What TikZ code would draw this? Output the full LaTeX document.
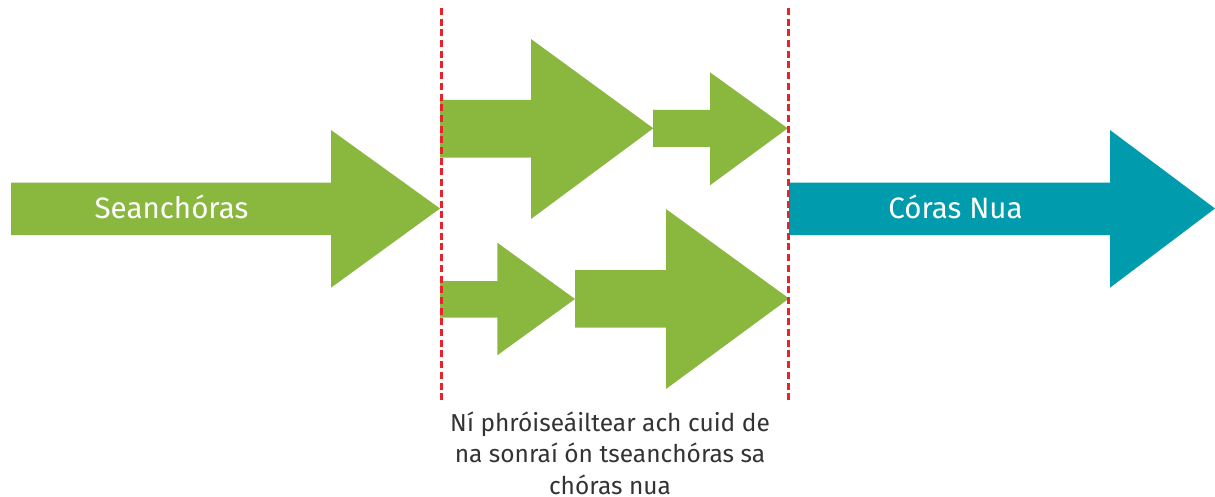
\documentclass[tikz,border=0pt]{standalone}
\usepackage{fontspec}
\setmainfont{Fira Sans}
\definecolor{arrgreen}{HTML}{8AB83F}
\definecolor{arrteal}{HTML}{009CAE}
\definecolor{dashred}{HTML}{E8232B}
\definecolor{txtgray}{HTML}{333333}
\begin{document}
\begin{tikzpicture}[x=1pt,y=-1pt,
  greenarrow/.style={fill=arrgreen,draw=none},
  tealarrow/.style={fill=arrteal,draw=none},
  divider/.style={draw=dashred,line width=2.6pt,dash pattern=on 7pt off 3.7pt},
  label/.style={text=white,font=\fontsize{29.5}{36}\selectfont,inner sep=0pt,anchor=base},
  caption/.style={text=txtgray,font=\fontsize{24.5}{31.3}\selectfont,align=center,inner sep=0pt,anchor=base}]
\useasboundingbox (0,0) rectangle (1215,497);
% big left arrow
\path[greenarrow] (11,182.7) -- (331,182.7) -- (331,130) -- (440,208.5) -- (331,287.7) -- (331,235) -- (11,235) -- cycle;
% teal arrow
\path[tealarrow] (789,182.7) -- (1110,182.7) -- (1110,130) -- (1215,208.5) -- (1110,287.7) -- (1110,235) -- (789,235) -- cycle;
% upper middle arrows
\path[greenarrow] (440,100) -- (531,100) -- (531,39) -- (653.3,128.3) -- (531,219) -- (531,157.7) -- (440,157.7) -- cycle;
\path[greenarrow] (653,110) -- (710,110) -- (710,72.3) -- (787.7,128.3) -- (710,185.3) -- (710,147) -- (653,147) -- cycle;
% lower middle arrows
\path[greenarrow] (440,281) -- (497.3,281) -- (497.3,242.7) -- (575,299) -- (497.3,355.3) -- (497.3,317.7) -- (440,317.7) -- cycle;
\path[greenarrow] (575,270) -- (666,270) -- (666,209) -- (789,298.5) -- (666,389) -- (666,327.7) -- (575,327.7) -- cycle;
% dividers
\coordinate (d1top) at (441.3,8);
\coordinate (d1bot) at (441.3,401);
\coordinate (d2top) at (788.5,8);
\coordinate (d2bot) at (788.5,401);
\draw[divider] (d1top) -- (d1bot);
\draw[divider] (d2top) -- (d2bot);
% labels
\node[label] (old) at (171.5,218.5) {Seanchóras};
\node[label] (new) at (955.5,218.5) {Córas Nua};
\node[caption] (cap) at (610,494) {Ní phróiseáiltear ach cuid de\\na sonraí ón tseanchóras sa\\chóras nua};
\end{tikzpicture}
\end{document}
